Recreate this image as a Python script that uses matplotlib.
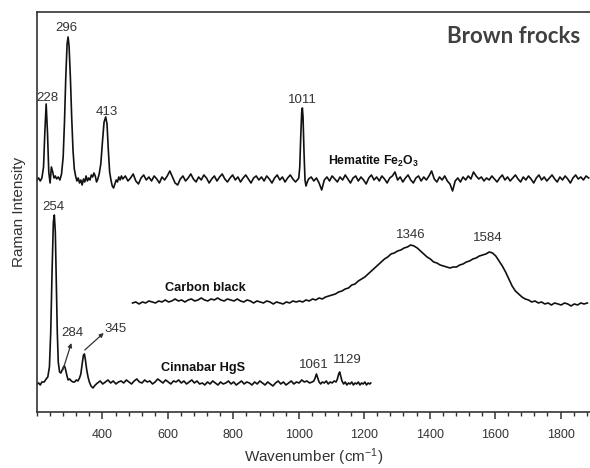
import matplotlib
matplotlib.use("Agg")
import matplotlib.pyplot as plt
from matplotlib.ticker import MultipleLocator

# ---------------- data ----------------
# Hematite Fe2O3 (top trace)
hem_peak_x = [200, 205, 210, 215, 220, 224, 228, 232, 236, 240, 244, 248, 252, 256, 260, 265, 270,
              275, 280, 284, 288, 292, 295, 298, 302, 306, 310, 314, 318, 322, 326, 330, 334, 338, 342,
              346, 350, 354, 358, 362, 366, 370, 374, 378, 382, 386, 390, 395, 400, 405, 410, 414,
              418, 422, 426, 430, 434, 438, 442, 446, 450, 454, 458]
hem_peak_y = [232, 234, 231, 234, 245, 280, 308, 280, 240, 229, 245, 240, 234, 236, 233, 235, 232,
              238, 255, 290, 335, 368, 375, 366, 335, 295, 262, 243, 236, 231, 234, 229, 232, 227, 233,
              230, 236, 231, 234, 232, 237, 235, 239, 236, 230, 233, 238, 248, 270, 290, 295, 288,
              262, 240, 232, 226, 224, 228, 232, 230, 235, 232, 236]
hem_mid_x = list(range(462, 1000, 8))
hem_mid_y = [233, 236, 231, 234, 238, 231, 228, 234, 237, 232,
             235, 231, 236, 233, 229, 235, 232, 236, 241, 235,
             229, 227, 233, 236, 231, 234, 238, 233, 230, 235,
             232, 237, 234, 229, 233, 236, 231, 235, 238, 233,
             230, 234, 237, 232, 235, 230, 234, 237, 233, 229,
             234, 236, 232, 235, 231, 236, 233, 229, 234, 237,
             232, 235, 230, 234, 237, 233, 230, 233]
hem_1011_x = [1000, 1003, 1006, 1009, 1011, 1013, 1016, 1019, 1022, 1026]
hem_1011_y = [234, 245, 275, 300, 304, 295, 260, 232, 226, 230]
hem_end_x = list(range(1030, 1892, 8))
hem_end_y = [233, 235, 231, 234, 229, 222, 232, 235, 231, 236,
             233, 230, 235, 232, 237, 233, 229, 234, 236, 231,
             235, 232, 228, 234, 237, 232, 235, 231, 236, 233,
             229, 234, 236, 240, 232, 235, 230, 234, 237, 232,
             229, 234, 236, 231, 235, 232, 236, 241, 233, 230,
             235, 232, 236, 231, 228, 221, 231, 234, 230, 235,
             232, 236, 233, 240, 236, 233, 235, 231, 234, 232,
             236, 233, 230, 234, 237, 232, 235, 231, 234, 237,
             233, 230, 235, 232, 236, 233, 229, 234, 237, 232,
             235, 231, 234, 237, 233, 230, 235, 232, 236, 233,
             229, 234, 237, 233, 235, 232, 236, 234]

# Carbon black (middle trace)
carbon_x = list(range(492, 1892, 10))
carbon_y = [109, 110, 108, 110, 109, 111, 110, 109, 111, 110,
            112, 110, 111, 113, 111, 112, 110, 112, 113, 111,
            112, 114, 112, 111, 113, 112, 114, 112, 111, 113,
            112, 111, 113, 111, 110, 112, 111, 109, 111, 110,
            109, 111, 110, 108, 110, 109, 108, 110, 109, 111,
            110, 111, 110, 112, 111, 113, 112, 114, 113, 115,
            116, 117, 118, 120, 121, 123, 124, 127, 128, 131,
            133, 135, 138, 141, 144, 147, 150, 153, 155, 158,
            159, 161, 162, 164, 165, 167, 166, 164, 161, 158,
            155, 153, 150, 149, 147, 146, 145, 144, 145, 145,
            147, 148, 150, 151, 153, 154, 156, 157, 158, 160,
            159, 156, 151, 146, 140, 133, 126, 121, 118, 115,
            113, 112, 110, 111, 109, 110, 108, 109, 107, 109,
            108, 107, 109, 108, 106, 108, 107, 109, 108, 109]

# Cinnabar HgS (bottom trace)
cin_peak_x = [200, 205, 210, 215, 222, 228, 233, 238, 242, 246, 250, 253, 256, 259, 262, 265, 269,
              273, 277, 281, 284, 287, 291, 295, 300, 305, 310, 315, 320, 325, 330, 334, 338, 342,
              345, 348, 352, 356, 360, 365, 371, 378]
cin_peak_y = [28, 29, 27, 30, 30, 33, 35, 45, 80, 140, 190, 197, 180, 130, 80, 50, 40,
              39, 42, 45, 46, 43, 37, 32, 33, 31, 30, 30, 32, 31, 34, 38, 48, 57,
              58, 52, 42, 35, 30, 26, 24, 27]
cin_mid_x = list(range(385, 1045, 8))
cin_mid_y = [29, 31, 28, 30, 32, 29, 31, 28, 30, 31,
             29, 32, 30, 28, 31, 33, 30, 29, 32, 30,
             31, 28, 30, 33, 31, 29, 32, 30, 28, 31,
             30, 32, 29, 31, 28, 30, 32, 29, 31, 28,
             29, 27, 30, 28, 31, 29, 27, 30, 28, 29,
             31, 28, 30, 27, 29, 31, 28, 30, 29, 27,
             30, 28, 31, 29, 27, 30, 28, 26, 29, 31,
             28, 30, 27, 29, 31, 28, 30, 29, 32, 30,
             31, 29, 30]
cin_end_x = [1046, 1050, 1054, 1058, 1062, 1067, 1072, 1078, 1084, 1090, 1096, 1102, 1108, 1114,
             1118, 1122, 1125, 1128, 1132, 1137, 1142, 1147, 1152, 1157, 1162, 1167, 1172, 1177,
             1182, 1187, 1192, 1197, 1202, 1207, 1212, 1217, 1220]
cin_end_y = [31, 34, 38, 34, 30, 28, 30, 29, 31, 28, 30, 29, 31, 30,
             33, 38, 40, 36, 31, 28, 30, 27, 29, 28, 30, 27, 29, 28,
             30, 27, 29, 28, 30, 27, 29, 28, 29]

hem_x = hem_peak_x + hem_mid_x + hem_1011_x + hem_end_x
hem_y = hem_peak_y + hem_mid_y + hem_1011_y + hem_end_y
cin_x = cin_peak_x + cin_mid_x + cin_end_x
cin_y = cin_peak_y + cin_mid_y + cin_end_y

# peak labels: (text, wavenumber, height)
peak_labels = [("228", 233, 314), ("296", 290, 384), ("413", 414, 300), ("1011", 1012, 312),
               ("1346", 1342, 177), ("1584", 1579, 174), ("254", 249, 205),
               ("1061", 1046, 47), ("1129", 1148, 52)]
xtick_values = [400, 600, 800, 1000, 1200, 1400, 1600, 1800]

# ---------------- figure ----------------
plt.rcParams['font.family'] = ['Liberation Sans', 'DejaVu Sans']
plt.rcParams['mathtext.fontset'] = 'custom'
plt.rcParams['mathtext.rm'] = 'Liberation Sans:bold'
plt.rcParams['mathtext.it'] = 'Liberation Sans:bold'
plt.rcParams['mathtext.bf'] = 'Liberation Sans:bold'

fig = plt.figure(figsize=(5.9, 4.68), dpi=100)
ax = fig.add_axes([0.0627, 0.1197, 1 - 0.0627, 0.8547])

lc = "#111111"
ax.plot(hem_x, hem_y, color=lc, lw=1.2)
ax.plot(carbon_x, carbon_y, color=lc, lw=1.2)
ax.plot(cin_x, cin_y, color=lc, lw=1.2)

ax.set_xlim(200, 1890)
ax.set_ylim(0, 400)

tc = "#333333"
for s in ["left", "bottom", "top"]:
    ax.spines[s].set_linewidth(1.2)
    ax.spines[s].set_color(tc)
ax.spines["right"].set_visible(False)

ax.set_yticks([])
ax.set_xticks(xtick_values)
ax.xaxis.set_minor_locator(MultipleLocator(40))
ax.tick_params(axis="x", which="major", direction="out", length=5, width=1.1,
               color=tc, labelsize=9, labelcolor=tc, pad=7)
ax.tick_params(axis="x", which="minor", direction="out", length=3, width=1.0, color=tc)

ax.set_xlabel("Wavenumber (cm$^{\\mathregular{-1}}$)", fontsize=11, color=tc, labelpad=4)
ax.set_ylabel("Raman Intensity", fontsize=11, color=tc, labelpad=8)

for t, x, y in peak_labels:
    ax.text(x, y, t, fontsize=9.5, color=tc, ha="center", va="center")

ax.text(308, 79, "284", fontsize=9.5, color=tc, ha="center", va="center")
ax.text(441, 83, "345", fontsize=9.5, color=tc, ha="center", va="center")
ax.annotate("", xy=(305, 69), xytext=(279, 42),
            arrowprops=dict(arrowstyle="-|>", color=tc, lw=0.9, mutation_scale=6,
                            shrinkA=0, shrinkB=0))
ax.annotate("", xy=(404, 79), xytext=(346, 62),
            arrowprops=dict(arrowstyle="-|>", color=tc, lw=0.9, mutation_scale=6,
                            shrinkA=0, shrinkB=0))

ax.text(1090, 251, "Hematite Fe$_{2}$O$_{3}$", fontsize=8.8, fontweight="bold",
        color="#111111", ha="left", va="center")
ax.text(716, 124, "Carbon black", fontsize=9.2, fontweight="bold",
        color="#111111", ha="center", va="center")
ax.text(707, 44, "Cinnabar HgS", fontsize=9.2, fontweight="bold",
        color="#111111", ha="center", va="center")
ax.text(1860, 375, "Brown frocks", fontsize=16, fontweight="bold",
        family=["Lato", "DejaVu Sans"], color="#404040", ha="right", va="center")

fig.savefig("out.png", dpi=100)
